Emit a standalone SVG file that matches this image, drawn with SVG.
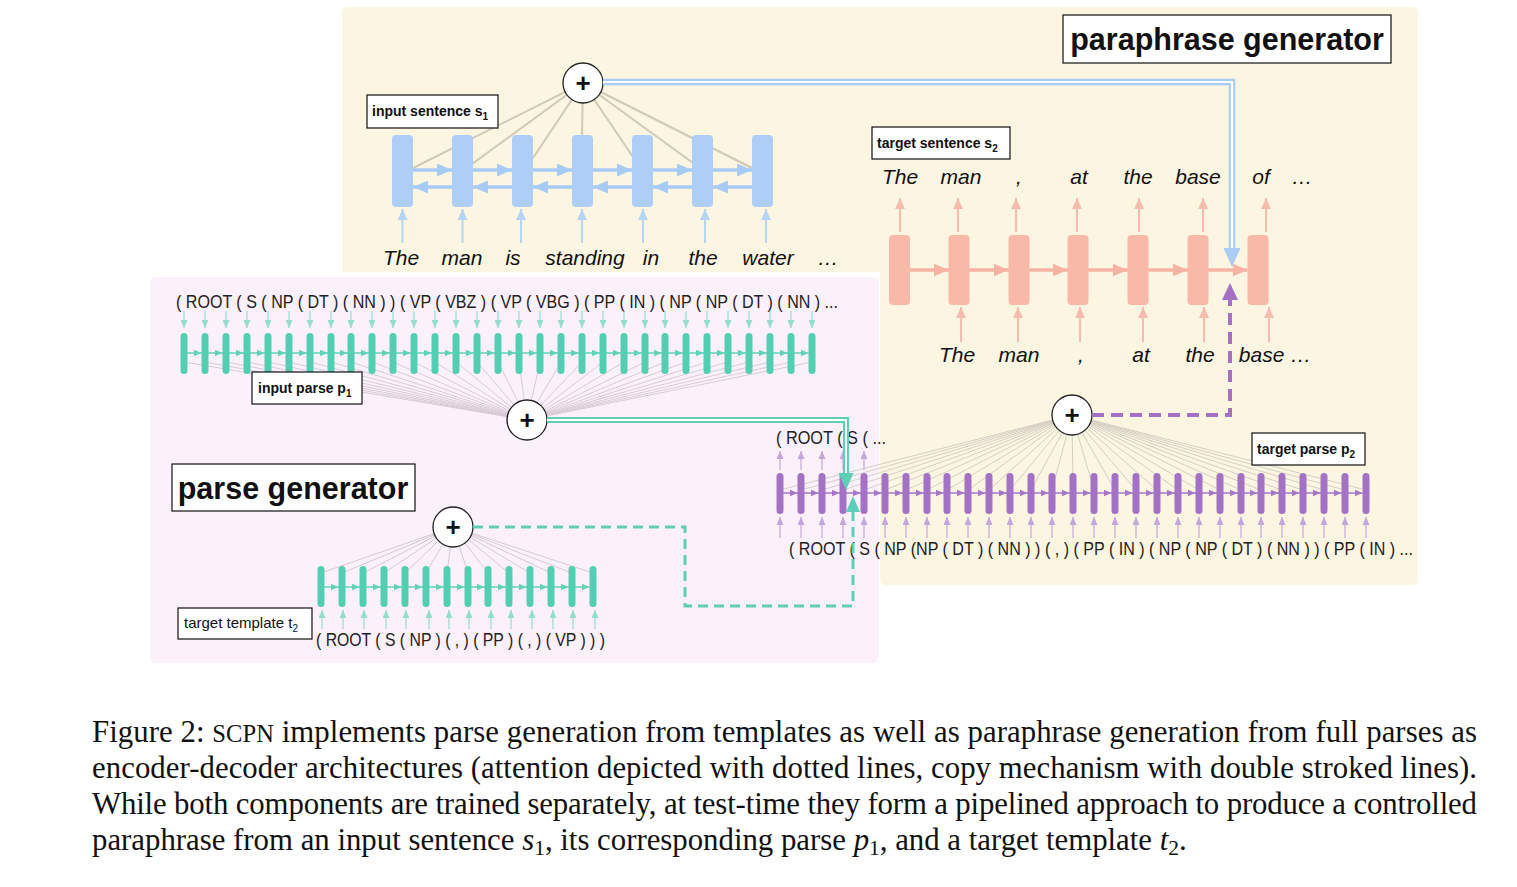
<svg xmlns="http://www.w3.org/2000/svg" width="1517" height="887" viewBox="0 0 1517 887">
<style>
.lbl{font-family:"Liberation Sans",Arial,sans-serif;font-weight:bold;font-size:14px;fill:#111}
.lbln{font-family:"Liberation Sans",Arial,sans-serif;font-size:15px;fill:#111}
.big{font-family:"Liberation Sans",Arial,sans-serif;font-weight:bold;font-size:30.5px;fill:#111}
.box{fill:#fff;stroke:#111;stroke-width:1.2}
.w{font-family:"Liberation Sans",Arial,sans-serif;font-style:italic;font-size:21px;fill:#111;text-anchor:middle}
.ps{font-family:"Liberation Sans",Arial,sans-serif;font-size:18px;fill:#222}
.cap{font-family:"Liberation Serif","Times New Roman",serif;font-size:30.8px;fill:#111}
.circ{fill:#fff;stroke:#222;stroke-width:1.3}
.plus{font-family:"Liberation Sans",Arial,sans-serif;font-weight:bold;font-size:26px;fill:#111;text-anchor:middle}
.ub{stroke:#b6d4f6;stroke-width:2;marker-end:url(#mBlueL)}
.us{stroke:#f8bcae;stroke-width:2;marker-end:url(#mSalL)}
.ut{stroke:#93ddcb;stroke-width:1.2;marker-end:url(#mTealL)}
.up{stroke:#c5a6dc;stroke-width:1.2;marker-end:url(#mPurL)}
</style>
<defs>
<marker id="mBlue" viewBox="0 0 15 13" refX="15" refY="6.5" markerWidth="15" markerHeight="13" markerUnits="userSpaceOnUse" orient="auto"><path d="M0,0 L15,6.5 L0,13 Z" fill="#a7cbf5"/></marker>
<marker id="mBlueL" viewBox="0 0 11 10" refX="11" refY="5" markerWidth="11" markerHeight="10" markerUnits="userSpaceOnUse" orient="auto"><path d="M0,0 L11,5 L0,10 Z" fill="#b6d4f6"/></marker>
<marker id="mSal" viewBox="0 0 15 13" refX="15" refY="6.5" markerWidth="15" markerHeight="13" markerUnits="userSpaceOnUse" orient="auto"><path d="M0,0 L15,6.5 L0,13 Z" fill="#f7b3a2"/></marker>
<marker id="mSalL" viewBox="0 0 11 10" refX="11" refY="5" markerWidth="11" markerHeight="10" markerUnits="userSpaceOnUse" orient="auto"><path d="M0,0 L11,5 L0,10 Z" fill="#f8bcae"/></marker>
<marker id="mTeal" viewBox="0 0 8 7" refX="8" refY="3.5" markerWidth="8" markerHeight="7" markerUnits="userSpaceOnUse" orient="auto"><path d="M0,0 L8,3.5 L0,7 Z" fill="#62d3b9"/></marker>
<marker id="mTealL" viewBox="0 0 8 7" refX="8" refY="3.5" markerWidth="8" markerHeight="7" markerUnits="userSpaceOnUse" orient="auto"><path d="M0,0 L8,3.5 L0,7 Z" fill="#93ddcb"/></marker>
<marker id="mPur" viewBox="0 0 8 7" refX="8" refY="3.5" markerWidth="8" markerHeight="7" markerUnits="userSpaceOnUse" orient="auto"><path d="M0,0 L8,3.5 L0,7 Z" fill="#a977c8"/></marker>
<marker id="mPurL" viewBox="0 0 8 7" refX="8" refY="3.5" markerWidth="8" markerHeight="7" markerUnits="userSpaceOnUse" orient="auto"><path d="M0,0 L8,3.5 L0,7 Z" fill="#c5a6dc"/></marker>
</defs>

<g id="backgrounds">
<path d="M348,7 H1412 Q1418,7 1418,13 V579 Q1418,585 1412,585 H886 Q880,585 880,579 V272 H342 V13 Q342,7 348,7 Z" fill="#fcf5e1"/>
<rect x="150" y="277" width="729" height="386" rx="6" fill="#fcf0fb"/>
</g>

<g id="attention-lines" fill="none">
<path d="M583,83 L413,168 M583,83 L472,164 M583,83 L533,158 M583,83 L582,135 M583,83 L633,157 M583,83 L693,163 M583,83 L752,168" stroke="#cfc9b8" stroke-width="2"/>
<path stroke="#d9cbd6" stroke-width="1" d="M527,420 L184,362 M527,420 L205,362 M527,420 L226,362 M527,420 L247,362 M527,420 L268,362 M527,420 L289,362 M527,420 L310,362 M527,420 L331,362 M527,420 L351,362 M527,420 L372,362 M527,420 L393,362 M527,420 L414,362 M527,420 L435,362 M527,420 L456,362 M527,420 L477,362 M527,420 L498,362 M527,420 L519,362 M527,420 L540,362 M527,420 L561,362 M527,420 L582,362 M527,420 L603,362 M527,420 L624,362 M527,420 L645,362 M527,420 L665,362 M527,420 L686,362 M527,420 L707,362 M527,420 L728,362 M527,420 L749,362 M527,420 L770,362 M527,420 L791,362 M527,420 L812,362"/>
<path stroke="#d3cfc3" stroke-width="1" d="M1072,415 L780,490 M1072,415 L801,490 M1072,415 L822,490 M1072,415 L843,490 M1072,415 L864,490 M1072,415 L885,490 M1072,415 L906,490 M1072,415 L927,490 M1072,415 L947,490 M1072,415 L968,490 M1072,415 L989,490 M1072,415 L1010,490 M1072,415 L1031,490 M1072,415 L1052,490 M1072,415 L1073,490 M1072,415 L1094,490 M1072,415 L1115,490 M1072,415 L1136,490 M1072,415 L1157,490 M1072,415 L1178,490 M1072,415 L1199,490 M1072,415 L1220,490 M1072,415 L1241,490 M1072,415 L1261,490 M1072,415 L1282,490 M1072,415 L1303,490 M1072,415 L1324,490 M1072,415 L1345,490 M1072,415 L1366,490"/>
<path stroke="#d4cad2" stroke-width="1" d="M453,527 L321,573 M453,527 L342,573 M453,527 L363,573 M453,527 L384,573 M453,527 L405,573 M453,527 L426,573 M453,527 L447,573 M453,527 L468,573 M453,527 L488,573 M453,527 L509,573 M453,527 L530,573 M453,527 L551,573 M453,527 L572,573 M453,527 L593,573"/>
</g>

<g id="input-sentence-encoder">
<polyline points="402.5,170 452,170 512,170 572,170 632,170 692,170 752,170" fill="none" stroke="#a7cbf5" stroke-width="3.5" marker-mid="url(#mBlue)" marker-end="url(#mBlue)"/>
<polyline points="762.5,187 713,187 653,187 593,187 533,187 473,187 413,187" fill="none" stroke="#a7cbf5" stroke-width="3.5" marker-mid="url(#mBlue)" marker-end="url(#mBlue)"/>
<g fill="#aecef7">
<rect x="392" y="135" width="21" height="72" rx="4"/>
<rect x="452" y="135" width="21" height="72" rx="4"/>
<rect x="512" y="135" width="21" height="72" rx="4"/>
<rect x="572" y="135" width="21" height="72" rx="4"/>
<rect x="632" y="135" width="21" height="72" rx="4"/>
<rect x="692" y="135" width="21" height="72" rx="4"/>
<rect x="752" y="135" width="21" height="72" rx="4"/>
</g>
<line class="ub" x1="402.5" y1="243" x2="402.5" y2="209"/>
<line class="ub" x1="462.5" y1="243" x2="462.5" y2="209"/>
<line class="ub" x1="521" y1="243" x2="521" y2="209"/>
<line class="ub" x1="582" y1="243" x2="582" y2="209"/>
<line class="ub" x1="643" y1="243" x2="643" y2="209"/>
<line class="ub" x1="705" y1="243" x2="705" y2="209"/>
<line class="ub" x1="766" y1="243" x2="766" y2="209"/>
<text class="w" x="401" y="265">The</text>
<text class="w" x="462" y="265">man</text>
<text class="w" x="513" y="265">is</text>
<text class="w" x="585" y="265">standing</text>
<text class="w" x="651" y="265">in</text>
<text class="w" x="703" y="265">the</text>
<text class="w" x="768" y="265">water</text>
<text class="w" x="828" y="265">…</text>
</g>

<g id="input-sentence-label">
<rect class="box" x="367" y="95" width="131" height="33"/>
<text class="lbl" x="372" y="116">input sentence s<tspan font-size="10" dy="4">1</tspan></text>
</g>

<g id="sentence-attention-sum">
<circle class="circ" cx="583" cy="83" r="20"/>
<text class="plus" x="583" y="92">+</text>
</g>

<g id="target-sentence-decoder">
<polyline points="899,270 948.5,270 1008.5,270 1067.5,270 1127.5,270 1187.5,270 1247.5,270" fill="none" stroke="#f7b3a2" stroke-width="3.5" marker-mid="url(#mSal)" marker-end="url(#mSal)"/>
<g fill="#f9b9a9">
<rect x="889" y="235" width="21" height="70" rx="4"/>
<rect x="948.5" y="235" width="21" height="70" rx="4"/>
<rect x="1008.5" y="235" width="21" height="70" rx="4"/>
<rect x="1067.5" y="235" width="21" height="70" rx="4"/>
<rect x="1127.5" y="235" width="21" height="70" rx="4"/>
<rect x="1187.5" y="235" width="21" height="70" rx="4"/>
<rect x="1247.5" y="235" width="21" height="70" rx="4"/>
</g>
<line class="us" x1="900" y1="232" x2="900" y2="198"/>
<line class="us" x1="958" y1="232" x2="958" y2="198"/>
<line class="us" x1="1016" y1="232" x2="1016" y2="198"/>
<line class="us" x1="1077" y1="232" x2="1077" y2="198"/>
<line class="us" x1="1139" y1="232" x2="1139" y2="198"/>
<line class="us" x1="1203" y1="232" x2="1203" y2="198"/>
<line class="us" x1="1266" y1="232" x2="1266" y2="198"/>
<line class="us" x1="961" y1="342" x2="961" y2="307"/>
<line class="us" x1="1018" y1="342" x2="1018" y2="307"/>
<line class="us" x1="1080" y1="342" x2="1080" y2="307"/>
<line class="us" x1="1143" y1="342" x2="1143" y2="307"/>
<line class="us" x1="1204" y1="342" x2="1204" y2="307"/>
<line class="us" x1="1269" y1="342" x2="1269" y2="307"/>
<text class="w" x="900" y="184">The</text>
<text class="w" x="961" y="184">man</text>
<text class="w" x="1019" y="184">,</text>
<text class="w" x="1079" y="184">at</text>
<text class="w" x="1138" y="184">the</text>
<text class="w" x="1198" y="184">base</text>
<text class="w" x="1261" y="184">of</text>
<text class="w" x="1302" y="184">…</text>
<text class="w" x="957" y="362">The</text>
<text class="w" x="1019" y="362">man</text>
<text class="w" x="1081" y="362">,</text>
<text class="w" x="1141" y="362">at</text>
<text class="w" x="1200" y="362">the</text>
<text class="w" x="1275" y="362">base …</text>
</g>

<g id="target-sentence-label">
<rect class="box" x="872" y="127" width="138" height="32"/>
<text class="lbl" x="877" y="148">target sentence s<tspan font-size="10" dy="4">2</tspan></text>
</g>

<g id="paraphrase-generator-label">
<rect class="box" x="1063" y="15" width="328" height="48"/>
<text class="big" x="1227" y="50" text-anchor="middle">paraphrase generator</text>
</g>

<g id="input-parse-encoder">
<text class="ps" x="176" y="308" textLength="662" lengthAdjust="spacingAndGlyphs">( ROOT ( S ( NP ( DT ) ( NN ) ) ( VP ( VBZ ) ( VP ( VBG ) ( PP ( IN ) ( NP ( NP ( DT ) ( NN ) ...</text>
<polyline points="184,353 201.5,353 222.5,353 243.5,353 264.5,353 285.5,353 306.5,353 327.5,353 347.5,353 368.5,353 389.5,353 410.5,353 431.5,353 452.5,353 473.5,353 494.5,353 515.5,353 536.5,353 557.5,353 578.5,353 599.5,353 620.5,353 641.5,353 661.5,353 682.5,353 703.5,353 724.5,353 745.5,353 766.5,353 787.5,353 808.5,353" fill="none" stroke="#62d3b9" stroke-width="1.5" marker-mid="url(#mTeal)" marker-end="url(#mTeal)"/>
<path fill="none" stroke="#52cfb2" stroke-width="7" stroke-linecap="round" d="M184,336.5 V370.5 M205,336.5 V370.5 M226,336.5 V370.5 M247,336.5 V370.5 M268,336.5 V370.5 M289,336.5 V370.5 M310,336.5 V370.5 M331,336.5 V370.5 M351,336.5 V370.5 M372,336.5 V370.5 M393,336.5 V370.5 M414,336.5 V370.5 M435,336.5 V370.5 M456,336.5 V370.5 M477,336.5 V370.5 M498,336.5 V370.5 M519,336.5 V370.5 M540,336.5 V370.5 M561,336.5 V370.5 M582,336.5 V370.5 M603,336.5 V370.5 M624,336.5 V370.5 M645,336.5 V370.5 M665,336.5 V370.5 M686,336.5 V370.5 M707,336.5 V370.5 M728,336.5 V370.5 M749,336.5 V370.5 M770,336.5 V370.5 M791,336.5 V370.5 M812,336.5 V370.5"/>
<line class="ut" x1="184" y1="311" x2="184" y2="328"/>
<line class="ut" x1="205" y1="311" x2="205" y2="328"/>
<line class="ut" x1="226" y1="311" x2="226" y2="328"/>
<line class="ut" x1="247" y1="311" x2="247" y2="328"/>
<line class="ut" x1="268" y1="311" x2="268" y2="328"/>
<line class="ut" x1="289" y1="311" x2="289" y2="328"/>
<line class="ut" x1="310" y1="311" x2="310" y2="328"/>
<line class="ut" x1="331" y1="311" x2="331" y2="328"/>
<line class="ut" x1="351" y1="311" x2="351" y2="328"/>
<line class="ut" x1="372" y1="311" x2="372" y2="328"/>
<line class="ut" x1="393" y1="311" x2="393" y2="328"/>
<line class="ut" x1="414" y1="311" x2="414" y2="328"/>
<line class="ut" x1="435" y1="311" x2="435" y2="328"/>
<line class="ut" x1="456" y1="311" x2="456" y2="328"/>
<line class="ut" x1="477" y1="311" x2="477" y2="328"/>
<line class="ut" x1="498" y1="311" x2="498" y2="328"/>
<line class="ut" x1="519" y1="311" x2="519" y2="328"/>
<line class="ut" x1="540" y1="311" x2="540" y2="328"/>
<line class="ut" x1="561" y1="311" x2="561" y2="328"/>
<line class="ut" x1="582" y1="311" x2="582" y2="328"/>
<line class="ut" x1="603" y1="311" x2="603" y2="328"/>
<line class="ut" x1="624" y1="311" x2="624" y2="328"/>
<line class="ut" x1="645" y1="311" x2="645" y2="328"/>
<line class="ut" x1="665" y1="311" x2="665" y2="328"/>
<line class="ut" x1="686" y1="311" x2="686" y2="328"/>
<line class="ut" x1="707" y1="311" x2="707" y2="328"/>
<line class="ut" x1="728" y1="311" x2="728" y2="328"/>
<line class="ut" x1="749" y1="311" x2="749" y2="328"/>
<line class="ut" x1="770" y1="311" x2="770" y2="328"/>
<line class="ut" x1="791" y1="311" x2="791" y2="328"/>
<line class="ut" x1="812" y1="311" x2="812" y2="328"/>
</g>

<g id="input-parse-label">
<rect class="box" x="252" y="372" width="110" height="32"/>
<text class="lbl" x="258" y="393">input parse p<tspan font-size="10" dy="4">1</tspan></text>
</g>

<g id="parse-attention-sum">
<circle class="circ" cx="527" cy="420" r="20"/>
<text class="plus" x="527" y="429">+</text>
</g>

<g id="target-parse-decoder">
<text class="ps" x="776" y="444" textLength="110" lengthAdjust="spacingAndGlyphs">( ROOT ( S ( ...</text>
<polyline points="780,493 797.5,493 818.5,493 839.5,493 860.5,493 881.5,493 902.5,493 923.5,493 943.5,493 964.5,493 985.5,493 1006.5,493 1027.5,493 1048.5,493 1069.5,493 1090.5,493 1111.5,493 1132.5,493 1153.5,493 1174.5,493 1195.5,493 1216.5,493 1237.5,493 1257.5,493 1278.5,493 1299.5,493 1320.5,493 1341.5,493 1362.5,493" fill="none" stroke="#a977c8" stroke-width="1.5" marker-mid="url(#mPur)" marker-end="url(#mPur)"/>
<path fill="none" stroke="#a472c4" stroke-width="7" stroke-linecap="round" d="M780,476.5 V510.5 M801,476.5 V510.5 M822,476.5 V510.5 M843,476.5 V510.5 M864,476.5 V510.5 M885,476.5 V510.5 M906,476.5 V510.5 M927,476.5 V510.5 M947,476.5 V510.5 M968,476.5 V510.5 M989,476.5 V510.5 M1010,476.5 V510.5 M1031,476.5 V510.5 M1052,476.5 V510.5 M1073,476.5 V510.5 M1094,476.5 V510.5 M1115,476.5 V510.5 M1136,476.5 V510.5 M1157,476.5 V510.5 M1178,476.5 V510.5 M1199,476.5 V510.5 M1220,476.5 V510.5 M1241,476.5 V510.5 M1261,476.5 V510.5 M1282,476.5 V510.5 M1303,476.5 V510.5 M1324,476.5 V510.5 M1345,476.5 V510.5 M1366,476.5 V510.5"/>
<line class="up" x1="780" y1="470" x2="780" y2="451"/>
<line class="up" x1="801" y1="470" x2="801" y2="451"/>
<line class="up" x1="822" y1="470" x2="822" y2="451"/>
<line class="up" x1="843" y1="470" x2="843" y2="451"/>
<line class="up" x1="864" y1="470" x2="864" y2="451"/>
<line class="up" x1="780" y1="538" x2="780" y2="517"/>
<line class="up" x1="801" y1="538" x2="801" y2="517"/>
<line class="up" x1="822" y1="538" x2="822" y2="517"/>
<line class="up" x1="843" y1="538" x2="843" y2="517"/>
<line class="up" x1="864" y1="538" x2="864" y2="517"/>
<line class="up" x1="885" y1="538" x2="885" y2="517"/>
<line class="up" x1="906" y1="538" x2="906" y2="517"/>
<line class="up" x1="927" y1="538" x2="927" y2="517"/>
<line class="up" x1="947" y1="538" x2="947" y2="517"/>
<line class="up" x1="968" y1="538" x2="968" y2="517"/>
<line class="up" x1="989" y1="538" x2="989" y2="517"/>
<line class="up" x1="1010" y1="538" x2="1010" y2="517"/>
<line class="up" x1="1031" y1="538" x2="1031" y2="517"/>
<line class="up" x1="1052" y1="538" x2="1052" y2="517"/>
<line class="up" x1="1073" y1="538" x2="1073" y2="517"/>
<line class="up" x1="1094" y1="538" x2="1094" y2="517"/>
<line class="up" x1="1115" y1="538" x2="1115" y2="517"/>
<line class="up" x1="1136" y1="538" x2="1136" y2="517"/>
<line class="up" x1="1157" y1="538" x2="1157" y2="517"/>
<line class="up" x1="1178" y1="538" x2="1178" y2="517"/>
<line class="up" x1="1199" y1="538" x2="1199" y2="517"/>
<line class="up" x1="1220" y1="538" x2="1220" y2="517"/>
<line class="up" x1="1241" y1="538" x2="1241" y2="517"/>
<line class="up" x1="1261" y1="538" x2="1261" y2="517"/>
<line class="up" x1="1282" y1="538" x2="1282" y2="517"/>
<line class="up" x1="1303" y1="538" x2="1303" y2="517"/>
<line class="up" x1="1324" y1="538" x2="1324" y2="517"/>
<line class="up" x1="1345" y1="538" x2="1345" y2="517"/>
<line class="up" x1="1366" y1="538" x2="1366" y2="517"/>
<text class="ps" x="789" y="555" textLength="624" lengthAdjust="spacingAndGlyphs">( ROOT ( S ( NP (NP ( DT ) ( NN ) ) ( , ) ( PP ( IN ) ( NP ( NP ( DT ) ( NN ) ) ( PP ( IN ) ...</text>
</g>

<g id="target-parse-label">
<rect class="box" x="1252" y="433" width="113" height="32"/>
<text class="lbl" x="1257" y="454">target parse p<tspan font-size="10" dy="4">2</tspan></text>
</g>

<g id="target-parse-attention-sum">
<circle class="circ" cx="1072" cy="415" r="20"/>
<text class="plus" x="1072" y="424">+</text>
</g>

<g id="parse-generator-label">
<rect class="box" x="172" y="464" width="243" height="47"/>
<text class="big" x="293" y="499" text-anchor="middle">parse generator</text>
</g>

<g id="target-template-encoder">
<polyline points="321,587 338.5,587 359.5,587 380.5,587 401.5,587 422.5,587 443.5,587 464.5,587 484.5,587 505.5,587 526.5,587 547.5,587 568.5,587 589.5,587" fill="none" stroke="#62d3b9" stroke-width="1.5" marker-mid="url(#mTeal)" marker-end="url(#mTeal)"/>
<path fill="none" stroke="#52cfb2" stroke-width="7" stroke-linecap="round" d="M321,569.5 V603.5 M342,569.5 V603.5 M363,569.5 V603.5 M384,569.5 V603.5 M405,569.5 V603.5 M426,569.5 V603.5 M447,569.5 V603.5 M468,569.5 V603.5 M488,569.5 V603.5 M509,569.5 V603.5 M530,569.5 V603.5 M551,569.5 V603.5 M572,569.5 V603.5 M593,569.5 V603.5"/>
<line class="ut" x1="322" y1="629" x2="322" y2="610"/>
<line class="ut" x1="343" y1="629" x2="343" y2="610"/>
<line class="ut" x1="364" y1="629" x2="364" y2="610"/>
<line class="ut" x1="386" y1="629" x2="386" y2="610"/>
<line class="ut" x1="406" y1="629" x2="406" y2="610"/>
<line class="ut" x1="429" y1="629" x2="429" y2="610"/>
<line class="ut" x1="449" y1="629" x2="449" y2="610"/>
<line class="ut" x1="469" y1="629" x2="469" y2="610"/>
<line class="ut" x1="491" y1="629" x2="491" y2="610"/>
<line class="ut" x1="511" y1="629" x2="511" y2="610"/>
<line class="ut" x1="532" y1="629" x2="532" y2="610"/>
<line class="ut" x1="553" y1="629" x2="553" y2="610"/>
<line class="ut" x1="573" y1="629" x2="573" y2="610"/>
<line class="ut" x1="595" y1="629" x2="595" y2="610"/>
<text class="ps" x="316" y="646" textLength="289" lengthAdjust="spacingAndGlyphs">( ROOT ( S ( NP ) ( , ) ( PP ) ( , ) ( VP ) ) )</text>
</g>

<g id="target-template-label">
<rect class="box" x="178" y="608" width="134" height="31"/>
<text class="lbln" x="184" y="628">target template t<tspan font-size="10" dy="4">2</tspan></text>
</g>

<g id="template-attention-sum">
<circle class="circ" cx="453" cy="527" r="20"/>
<text class="plus" x="453" y="536">+</text>
</g>

<g id="connectors" fill="none">
<path d="M603,82 H1232 V249" stroke="#a9cdf5" stroke-width="6.5"/>
<path d="M603,82 H1232 V249" stroke="#ffffff" stroke-width="2.2"/>
<polygon points="1223.5,248 1240.5,248 1232,267" fill="#a9cdf5"/>
<path d="M547,420 H846 V474" stroke="#5ccfb6" stroke-width="6"/>
<path d="M547,420 H846 V474" stroke="#ffffff" stroke-width="2"/>
<polygon points="838.5,473 853.5,473 846,490" fill="#5ccfb6"/>
<path d="M473,527 H685 V606 H853 V512" stroke="#5ccfb6" stroke-width="3" stroke-dasharray="10 6"/>
<polygon points="846,512 860,512 853,496" fill="#5ccfb6"/>
<path d="M1092,415 H1230 V300" stroke="#a571c4" stroke-width="4" stroke-dasharray="12 7"/>
<polygon points="1222,300 1238,300 1230,283" fill="#a571c4"/>
</g>

<g id="caption">
<text class="cap" x="92" y="742" textLength="1385" lengthAdjust="spacing">Figure 2: <tspan font-size="24.5">SCPN</tspan> implements parse generation from templates as well as paraphrase generation from full parses as</text>
<text class="cap" x="92" y="778" textLength="1385" lengthAdjust="spacing">encoder-decoder architectures (attention depicted with dotted lines, copy mechanism with double stroked lines).</text>
<text class="cap" x="92" y="814" textLength="1385" lengthAdjust="spacing">While both components are trained separately, at test-time they form a pipelined approach to produce a controlled</text>
<text class="cap" x="92" y="850">paraphrase from an input sentence <tspan font-style="italic">s</tspan><tspan font-size="21.5" dy="5">1</tspan><tspan dy="-5">, its corresponding parse </tspan><tspan font-style="italic">p</tspan><tspan font-size="21.5" dy="5">1</tspan><tspan dy="-5">, and a target template </tspan><tspan font-style="italic">t</tspan><tspan font-size="21.5" dy="5">2</tspan><tspan dy="-5">.</tspan></text>
</g>
</svg>
